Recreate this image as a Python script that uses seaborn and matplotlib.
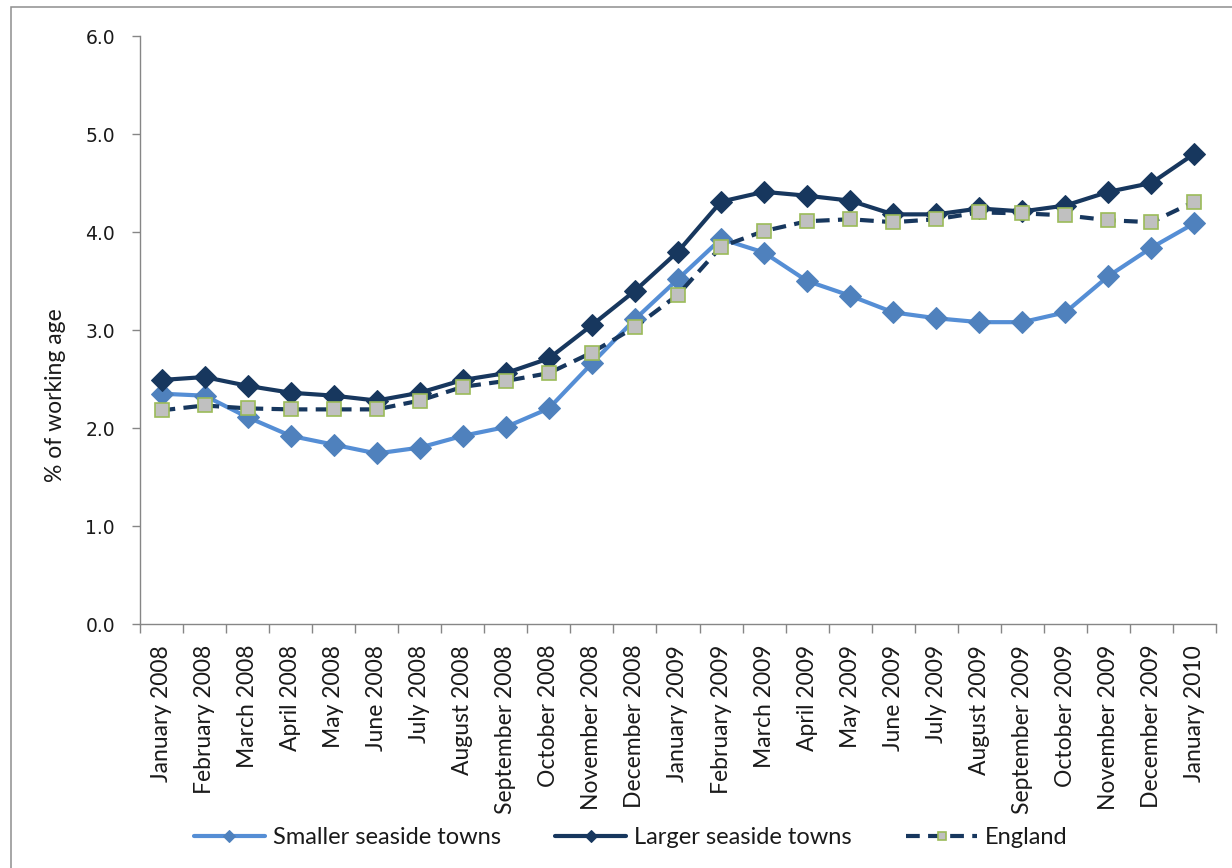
import matplotlib
matplotlib.use("Agg")
import matplotlib.pyplot as plt
from matplotlib.patches import Rectangle
from matplotlib.ticker import FixedLocator, FormatStrFormatter
import numpy as np
import pandas as pd
import seaborn as sns

# Monthly claimant rate, % of working-age population
months = [
    "January 2008", "February 2008", "March 2008", "April 2008", "May 2008",
    "June 2008", "July 2008", "August 2008", "September 2008", "October 2008",
    "November 2008", "December 2008", "January 2009", "February 2009",
    "March 2009", "April 2009", "May 2009", "June 2009", "July 2009",
    "August 2009", "September 2009", "October 2009", "November 2009",
    "December 2009", "January 2010",
]
smaller_towns = [2.35, 2.33, 2.11, 1.92, 1.83, 1.74, 1.80, 1.92, 2.01, 2.20,
                 2.66, 3.11, 3.52, 3.93, 3.79, 3.50, 3.35, 3.18, 3.12, 3.08,
                 3.08, 3.18, 3.55, 3.84, 4.09]
larger_towns = [2.49, 2.52, 2.43, 2.36, 2.33, 2.28, 2.36, 2.49, 2.56, 2.71,
                3.05, 3.40, 3.80, 4.31, 4.41, 4.37, 4.32, 4.18, 4.18, 4.24,
                4.21, 4.27, 4.41, 4.50, 4.80]
england = [2.18, 2.23, 2.20, 2.19, 2.19, 2.19, 2.28, 2.42, 2.48, 2.56,
           2.77, 3.03, 3.36, 3.85, 4.01, 4.11, 4.13, 4.10, 4.13, 4.20,
           4.19, 4.17, 4.12, 4.10, 4.31]
series_names = ["Smaller seaside towns", "Larger seaside towns", "England"]

sns.set_theme(style="white")
plt.rcParams["font.family"] = ["Lato", "DejaVu Sans"]
text_color = "#1a1a1a"

df = pd.DataFrame({
    "pos": np.tile(np.arange(len(months)), 3),
    "value": smaller_towns + larger_towns + england,
    "series": np.repeat(series_names, len(months)),
})

fig = plt.figure(figsize=(12.32, 8.68), dpi=100)
ax = fig.add_axes([140 / 1232, 1 - 624 / 868, (1216 - 140) / 1232, (624 - 36) / 868])

styles = {
    "Smaller seaside towns": dict(color="#558ED5", marker="D", markersize=11,
                                  markerfacecolor="#4F81BD", markeredgecolor="#4F81BD",
                                  linewidth=3.0),
    "Larger seaside towns": dict(color="#17375E", marker="D", markersize=11,
                                 markerfacecolor="#17375E", markeredgecolor="#17375E",
                                 linewidth=3.0),
    "England": dict(color="#17375E", marker="s", markersize=9.5,
                    markerfacecolor="#C0C0C0", markeredgecolor="#9BBB59",
                    markeredgewidth=1.2, linewidth=3.0),
}

for name in series_names:
    sub = df[df["series"] == name]
    sns.lineplot(data=sub, x="pos", y="value", ax=ax, sort=False,
                 errorbar=None, estimator=None, label=name, **styles[name])

# dashed national line
ax.lines[2].set_dashes((3.3, 2.0))

ax.set_xlim(-0.5, len(months) - 0.5)
ax.set_ylim(0, 6)
ax.set_xlabel("")
ax.set_ylabel("% of working age", fontsize=16.5, color=text_color)
ax.yaxis.set_label_coords(-0.069, 0.39)

ax.set_xticks(np.arange(len(months)))
ax.set_xticklabels(months, rotation=90, fontsize=16.5, color=text_color)
ax.xaxis.set_minor_locator(FixedLocator(np.arange(-0.5, len(months), 1.0)))
ax.tick_params(axis="x", which="major", length=0, pad=15)
ax.tick_params(axis="x", which="minor", length=6.5, width=1.0, color="#868686",
               direction="out", bottom=True)

ax.set_yticks(np.arange(0, 7, 1.0))
ax.yaxis.set_major_formatter(FormatStrFormatter("%.1f"))
ax.tick_params(axis="y", which="major", length=6, width=1.0, color="#868686",
               direction="out", left=True, pad=12)
for lbl in ax.get_yticklabels():
    lbl.set_family("DejaVu Sans")
    lbl.set_fontsize(13.5)
    lbl.set_color(text_color)

for side in ("top", "right"):
    ax.spines[side].set_visible(False)
for side in ("left", "bottom"):
    ax.spines[side].set_color("#868686")
    ax.spines[side].set_linewidth(1.0)

handles, labels = ax.get_legend_handles_labels()
ax.legend(handles, labels, loc="center", bbox_to_anchor=(0.512, 1 - 838 / 868),
          bbox_transform=fig.transFigure, ncol=3, frameon=False,
          fontsize=17, handlelength=3.0, columnspacing=2.3, handletextpad=0.35,
          markerscale=0.6, labelcolor=text_color)

# chart area border
fig.patches.append(Rectangle((11 / 1232, -0.05), 1.2, 1 - 7 / 868 + 0.05,
                             transform=fig.transFigure, fill=False,
                             edgecolor="#8e8e8e", linewidth=1.1, zorder=0))

fig.savefig("out.png", dpi=100, facecolor="white")
